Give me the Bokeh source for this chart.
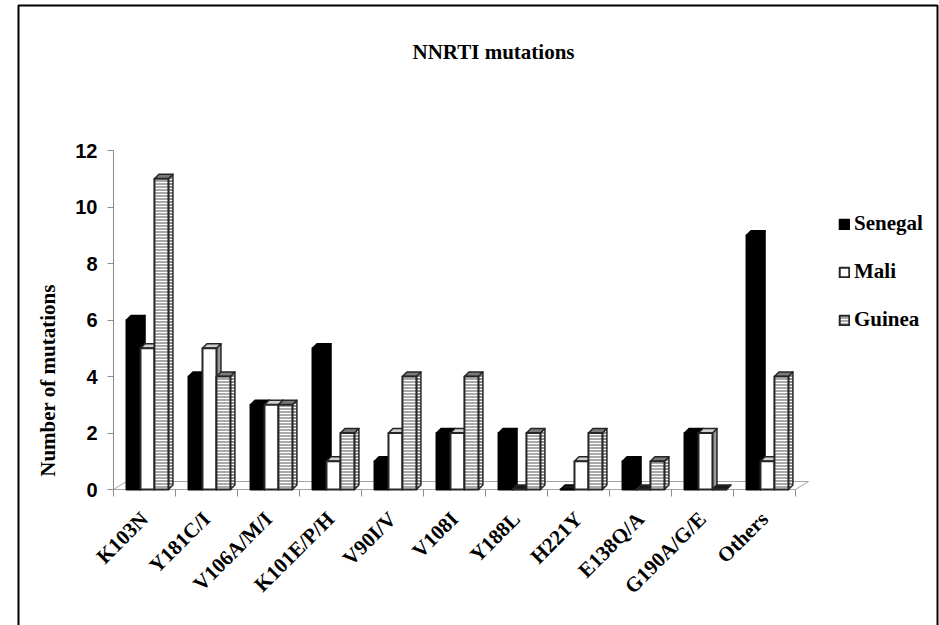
import math
from bokeh.plotting import figure
from bokeh.models import (Range1d, FixedTicker, LinearAxis, Label, Legend,
                          LegendItem)
from bokeh.embed import file_html
from bokeh.resources import INLINE

# ---------------- data ----------------
categories = ["K103N", "Y181C/I", "V106A/M/I", "K101E/P/H", "V90I/V", "V108I",
              "Y188L", "H221Y", "E138Q/A", "G190A/G/E", "Others"]
senegal = [6, 4, 3, 5, 1, 2, 2, 0, 1, 2, 9]
mali = [5, 5, 3, 1, 2, 2, 0, 1, 0, 2, 1]
guinea = [11, 4, 3, 2, 4, 4, 2, 2, 1, 0, 4]
series_names = ["Senegal", "Mali", "Guinea"]
y_ticks = [0, 2, 4, 6, 8, 10, 12]
title_text = "NNRTI mutations"
y_title = "Number of mutations"

# ---------------- layout ----------------
W, H = 939, 625
X0, Y0 = 113, 489                        # pixel position of (0, 0)
PX_X, PX_Y = 62.0, 28.25                 # pixels per category / per unit


def dx_(px):
    return (px - X0) / PX_X


def dy_(py):
    return (Y0 - py) / PX_Y


p = figure(width=W, height=H,
           x_range=Range1d(dx_(0), dx_(W)), y_range=Range1d(dy_(H), dy_(0)),
           output_backend="svg", toolbar_location=None,
           x_axis_location=None, y_axis_location=None,
           min_border=0)
p.grid.visible = False
p.outline_line_color = None
p.background_fill_color = "white"
p.border_fill_color = "white"

SERIF = "Liberation Serif"
SANS = "Liberation Sans"
AXIS_GRAY = "#8c8c8c"
n = len(categories)

# y axis, fixed at x = 0
yaxis = LinearAxis(ticker=FixedTicker(ticks=y_ticks, minor_ticks=[]),
                   fixed_location=0,
                   axis_line_color=None, major_tick_line_color=AXIS_GRAY,
                   major_tick_out=6, major_tick_in=0,
                   major_label_standoff=10,
                   major_label_text_font=SANS, major_label_text_font_style="bold",
                   major_label_text_font_size="20px", major_label_text_color="black")
p.add_layout(yaxis, "left")
p.segment(x0=[0], y0=[0], x1=[0], y1=[max(y_ticks)], line_color=AXIS_GRAY, line_width=1)

# x axis fixed at y = 0 (labels at category centres, minor ticks at borders)
centres = [i + 0.5 for i in range(n)]
xaxis = LinearAxis(ticker=FixedTicker(ticks=centres, minor_ticks=list(range(n + 1))),
                   fixed_location=0,
                   major_label_overrides={c: lab for c, lab in zip(centres, categories)},
                   major_label_orientation=math.pi / 4,
                   axis_line_color=None,
                   major_tick_out=0, major_tick_in=0,
                   minor_tick_out=7, minor_tick_in=0,
                   minor_tick_line_color=AXIS_GRAY,
                   major_label_standoff=19,
                   major_label_text_font=SERIF, major_label_text_font_style="bold",
                   major_label_text_font_size="21px", major_label_text_color="black")
p.add_layout(xaxis, "below")

# ---------------- 3-D floor ----------------
fdx, fdy = 13 / PX_X, 8 / PX_Y
p.patch([0, fdx, n + fdx, n], [0, fdy, fdy, 0], fill_color="white",
        line_color="#a6a6a6", line_width=1)

# ---------------- 3-D bars ----------------
bw = 14 / PX_X
ddx, ddy = 4.5 / PX_X, 4.5 / PX_Y
left_off = [0.21, 0.435, 0.66]
styles = [
    dict(front="#000000", top="#000000", side="#000000", line="#000000", hatch=None),
    dict(front="#ffffff", top="#d0d0d0", side="#9a9a9a", line="#262626", hatch=None),
    dict(front="#a9a9a9", top="#7a7a7a", side="#8a8a8a", line="#262626", hatch="horizontal_line"),
]
front_renderers = []
for s, vals in enumerate([senegal, mali, guinea]):
    st = styles[s]
    lefts = [i + left_off[s] for i in range(n)]
    rights = [l + bw for l in lefts]
    side_xs = [[r, r + ddx, r + ddx, r] for r in rights]
    side_ys = [[0, ddy, v + ddy, v] for v in vals]
    top_xs = [[l, l + ddx, r + ddx, r] for l, r in zip(lefts, rights)]
    top_ys = [[v, v + ddy, v + ddy, v] for v in vals]
    top_cols = [st["top"] if v > 0 else "#1a1a1a" for v in vals]
    hatch_kw = {}
    if st["hatch"]:
        hatch_kw = dict(hatch_pattern=st["hatch"], hatch_color="white",
                        hatch_scale=3, hatch_weight=1)
    p.patches(side_xs, side_ys, fill_color=st["side"], line_color=st["line"],
              line_width=1.5, line_join="round", **hatch_kw)
    p.patches(top_xs, top_ys, fill_color=top_cols, line_color=st["line"],
              line_width=1.5, line_join="round")
    r = p.quad(left=lefts, right=rights, bottom=[0] * n, top=vals,
               fill_color=st["front"], line_color=st["line"], line_width=2,
               line_join="round", **hatch_kw)
    front_renderers.append(r)

# ---------------- legend ----------------
legend = Legend(items=[LegendItem(label=nm, renderers=[r])
                       for nm, r in zip(series_names, front_renderers)],
                location=(838, H - 332), orientation="vertical",
                spacing=23, glyph_width=12, glyph_height=12, label_standoff=4,
                padding=0, margin=0, border_line_color=None,
                background_fill_alpha=0,
                label_text_font=SERIF, label_text_font_style="bold",
                label_text_font_size="21px", label_text_color="black")
p.add_layout(legend)

# ---------------- titles ----------------
p.add_layout(Label(x=dx_(493), y=dy_(51), text=title_text,
                   text_font=SERIF, text_font_style="bold", text_font_size="21px",
                   text_align="center", text_baseline="alphabetic", text_color="black"))
p.add_layout(Label(x=dx_(47), y=dy_(380), text=y_title,
                   angle=math.pi / 2,
                   text_font=SERIF, text_font_style="bold", text_font_size="21px",
                   text_align="center", text_baseline="middle", text_color="black"))

# ---------------- outer border ----------------
bx0, bx1 = dx_(18), dx_(937)
by1, by0 = dy_(5), dy_(H + 20)
p.line([bx0, bx0, bx1, bx1], [by0, by1, by1, by0], line_color="black", line_width=2)

open("out.html", "w").write(file_html(p, INLINE))
